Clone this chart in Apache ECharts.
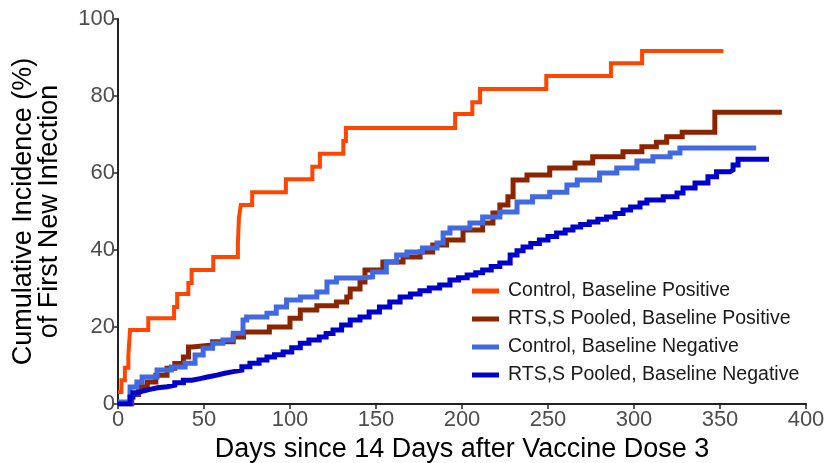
<!DOCTYPE html>
<html>
<head>
<meta charset="utf-8">
<script src="https://cdn.jsdelivr.net/npm/echarts@6/dist/echarts.min.js"></script>
<style>
  html, body { margin: 0; padding: 0; background: #fff; }
  #chart { width: 825px; height: 463px; }
</style>
</head>
<body>
<div id="chart"></div>
<script>
// series names (legend order)
const seriesNames = [
  'Control, Baseline Positive',
  'RTS,S Pooled, Baseline Positive',
  'Control, Baseline Negative',
  'RTS,S Pooled, Baseline Negative'
];

// [day, cumulative incidence %]
const ctrlPos = [
  [0, 3.1], [2, 6.2], [4, 9.4], [6, 12.5], [7, 19.2], [17.6, 22.3], [32.6, 25.2],
  [34.4, 28.6], [40.9, 31.4], [42.8, 34.8], [55.4, 38.2], [69.7, 41.5], [70, 45],
  [70.3, 48.3], [71.4, 51.7], [78, 55], [97.6, 58.4], [113, 61.6], [117.4, 65],
  [131, 68.3], [132.5, 71.7], [196, 75.3], [206, 78.4], [210.5, 81.8], [249, 85.2],
  [286.6, 88.5], [304.7, 91.7], [352, 91.7]
];

const rtssPos = [
  [0, 0], [8, 2.5], [12, 4.5], [17, 5.7], [22, 7.5], [28.5, 9.3], [33, 10.5], [38, 12.2],
  [41, 14.8], [43, 15.3], [55, 16.2], [67, 17.4], [73, 18.7], [88, 20], [100, 22.3],
  [106, 24.4], [115.6, 25.5], [127, 26.5], [133, 27.8], [135, 29.9], [140.7, 31.7],
  [143.6, 34.8], [154, 36.9], [165.7, 38.2], [175.6, 39.5], [183, 41.3], [191, 42.6],
  [200.6, 45.2], [212, 47], [218, 49.6], [222, 51.7], [226.7, 53.8], [229.7, 58.2],
  [237.8, 59.5], [251, 61.3], [265.7, 62.6], [276, 64.2], [293.6, 65.5], [304.6, 66.8],
  [313, 68], [319, 69.4], [328, 70.6], [347, 75.8], [386, 75.8]
];

const ctrlNeg = [
  [0, 0.5], [7, 4.4], [11, 5.7], [14, 7], [22.7, 8.8], [31, 9.6], [39, 10.6],
  [44.8, 12.7], [49.5, 14.5], [55, 15.8], [61, 16.6], [67, 18.4], [72.7, 21.8],
  [74.8, 22.6], [86.6, 23.6], [92, 25.2], [98, 27], [106, 27.8], [115.6, 29.1],
  [121.5, 31.7], [127, 32.7], [140.7, 33], [148, 34.3], [156, 36.9], [162, 38.7],
  [168, 39.5], [177, 40.5], [185.5, 41.8], [189, 44.4], [193, 45.7], [204.6, 47],
  [212, 48.6], [222, 49.9], [232, 52.5], [241, 53.8], [251, 55], [261, 56.9],
  [267, 58.2], [280, 60], [290, 61.3], [301.7, 63.1], [311, 64.2], [321, 65.2],
  [326.7, 66.5], [371, 66.5]
];

const rtssNeg = [
  [0, 0], [7, 1.8], [8.7, 2.9], [11, 3.4], [15, 3.8], [18.6, 4.2], [23, 4.5], [28.5, 4.9],
  [33, 5.5], [38, 6.2], [43, 6.6], [47.7, 7], [52, 7.5], [57.5, 8], [62, 8.4], [67, 8.8],
  [72, 9.7], [76.7, 10.6], [82, 11.4], [86.6, 12.2], [91, 12.8], [96, 13.5], [101, 14.6],
  [106, 15.8], [111, 16.6], [117, 17.4], [121, 18.3], [125, 19.2], [130, 20.5], [135, 21.8],
  [140.7, 22.6], [146, 23.9], [152, 25.2], [158, 26.5], [164, 27.8], [170, 28.6],
  [175.6, 29.4], [181, 30.1], [187, 30.9], [193, 32.2], [198, 32.8], [203, 33.5],
  [208, 34.1], [212, 34.8], [217, 35.7], [222, 36.6], [228, 38.7], [232, 39.8],
  [235.5, 40.8], [240, 41.7], [245, 42.6], [250, 43.5], [255, 44.4], [260, 45.2],
  [264.5, 46], [269, 46.6], [274, 47.3], [279, 48], [284, 48.6], [289, 49.5],
  [293.6, 50.4], [298, 51.2], [303.5, 52.2], [307.5, 53], [317, 53.8], [325, 54.8],
  [328.5, 56.1], [335.5, 57.4], [343, 59], [348, 60.3], [355.8, 60.8], [357.6, 62.1],
  [360.5, 63.6], [378.5, 63.6]
];

const xTicks = [0, 50, 100, 150, 200, 250, 300, 350, 400];
const yTicks = [0, 20, 40, 60, 80, 100];

const colors = ['#FF4500', '#8B2500', '#4169E1', '#0000CD'];
const widths = [4, 5, 5, 5];
const allData = [ctrlPos, rtssPos, ctrlNeg, rtssNeg];

const FONT = "'Liberation Sans', Arial, sans-serif";

let chartDom = document.getElementById('chart');
let myChart = echarts.init(chartDom);

const option = {
  animation: false,
  color: colors,
  grid: { left: 118, right: 19, top: 19, bottom: 59, containLabel: false, outerBoundsMode: 'none' },
  legend: {
    orient: 'vertical',
    left: 467,
    top: 275,
    icon: 'rect',
    itemWidth: 27,
    itemHeight: 5,
    itemGap: 6,
    data: seriesNames,
    textStyle: { fontFamily: FONT, fontSize: 19.5, color: '#1a1a1a', lineHeight: 22, padding: [0, 0, 0, 4] }
  },
  xAxis: {
    type: 'value',
    min: xTicks[0],
    max: xTicks[xTicks.length - 1],
    interval: 50,
    name: 'Days since 14 Days after Vaccine Dose 3',
    nameLocation: 'middle',
    nameGap: 15,
    nameTextStyle: { fontFamily: FONT, fontSize: 27, color: '#000' },
    axisLine: { lineStyle: { color: '#222', width: 2 } },
    axisTick: { show: true, length: 5, lineStyle: { color: '#222', width: 1.5 } },
    axisLabel: { fontFamily: FONT, fontSize: 22, color: '#4d4d4d', margin: 5 },
    splitLine: { show: false }
  },
  yAxis: {
    type: 'value',
    min: yTicks[0],
    max: yTicks[yTicks.length - 1],
    interval: 20,
    name: 'Cumulative Incidence (%)\nof First New Infection',
    nameLocation: 'middle',
    nameGap: 55,
    nameTextStyle: { fontFamily: FONT, fontSize: 27, color: '#000', lineHeight: 26 },
    axisLine: { show: true, lineStyle: { color: '#222', width: 2 } },
    axisTick: { show: true, length: 5, lineStyle: { color: '#222', width: 1.5 } },
    axisLabel: { fontFamily: FONT, fontSize: 22, color: '#4d4d4d', margin: 3 },
    splitLine: { show: false }
  },
  series: seriesNames.map((name, i) => ({
    name: name,
    type: 'line',
    step: 'end',
    showSymbol: false,
    data: allData[i],
    lineStyle: { color: colors[i], width: widths[i], cap: 'butt', join: 'miter' },
    itemStyle: { color: colors[i] }
  }))
};

myChart.setOption(option);
</script>
</body>
</html>
